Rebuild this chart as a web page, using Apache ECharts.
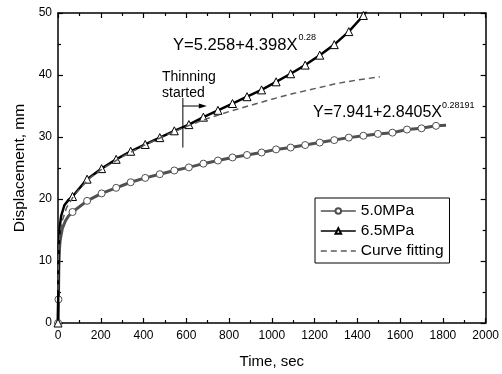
<!DOCTYPE html>
<html>
<head>
<meta charset="utf-8">
<script src="https://cdn.jsdelivr.net/npm/echarts@6/dist/echarts.min.js"></script>
<style>
html,body{margin:0;padding:0;background:#fff;}
#chart{width:502px;height:374px;}
</style>
</head>
<body>
<div id="chart"></div>
<script>
// ---- data ----
const xTicks = [0, 200, 400, 600, 800, 1000, 1200, 1400, 1600, 1800, 2000];
const yTicks = [0, 10, 20, 30, 40, 50];

// 5.0 MPa : marker points
const t50 = [0, 2, 68, 136, 204, 272, 340, 408, 476, 544, 612, 680, 748, 816, 884, 952, 1020, 1088, 1156, 1224, 1292, 1360, 1428, 1496, 1564, 1632, 1700, 1768];
const d50 = [0, 3.8, 17.9, 19.7, 20.9, 21.8, 22.7, 23.4, 24.0, 24.6, 25.1, 25.7, 26.2, 26.7, 27.1, 27.5, 28.0, 28.3, 28.7, 29.1, 29.5, 29.9, 30.2, 30.5, 30.7, 31.2, 31.4, 31.8];
// 5.0 MPa : line-only points between markers
const t50Line = [4, 7, 10, 20, 35, 50, 1815];
const d50Line = [9.0, 12.0, 13.3, 15.2, 16.5, 17.3, 31.9];

// 6.5 MPa : marker points
const t65 = [0, 68, 136, 204, 272, 340, 408, 476, 544, 612, 680, 748, 816, 884, 952, 1020, 1088, 1156, 1224, 1292, 1360, 1428];
const d65 = [0, 20.4, 23.2, 24.9, 26.4, 27.7, 28.8, 29.9, 31.0, 32.0, 33.2, 34.3, 35.4, 36.5, 37.6, 38.9, 40.2, 41.6, 43.2, 44.9, 47.0, 49.6];
// 6.5 MPa : line-only points
const t65Line = [2, 4, 8, 15, 30, 50, 1460];
const d65Line = [8.0, 12.5, 15.5, 17.3, 19.0, 19.9, 51.3];

// Curve fitting (dashed)
const tFit = [0, 2, 5, 10, 20, 40, 70, 100, 150, 200, 300, 400, 500, 600, 700, 800, 900, 1000, 1100, 1200, 1300, 1400, 1505];
const dFit = [5.3, 10.5, 12.5, 14.5, 16.5, 18.6, 20.3, 21.6, 23.4, 24.7, 26.8, 28.6, 30.2, 31.7, 33.0, 34.1, 35.1, 36.1, 37.0, 37.8, 38.6, 39.2, 39.7];

const seriesNames = ['5.0MPa', '6.5MPa', 'Curve fitting'];
const thinningTime = 584;
const thinningRange = [28.3, 36.3];
const arrowTo = [696, 35.0];

// ---- build ----
function build(mt, mv, lt, lv) {
  const items = [];
  mt.forEach((t, i) => items.push({ value: [t, mv[i]] }));
  lt.forEach((t, i) => items.push({ value: [t, lv[i]], symbol: 'none' }));
  items.sort((a, b) => a.value[0] - b.value[0]);
  return items;
}
const FONT = 'Liberation Sans, Arial, sans-serif';
const chart = echarts.init(document.getElementById('chart'), null, { renderer: 'canvas' });

const axisCommonX = {
  type: 'value', min: 0, max: 2000, interval: 200,
  axisLine: { show: true, onZero: false, lineStyle: { color: '#000', width: 1.5 } },
  axisTick: { show: true, inside: true, length: 5, lineStyle: { color: '#000', width: 1.2 } },
  minorTick: { show: true, splitNumber: 2, length: 3, lineStyle: { color: '#000', width: 1.2 } },
  splitLine: { show: false }
};
const axisCommonY = {
  type: 'value', min: 0, max: 50, interval: 10,
  axisLine: { show: true, onZero: false, lineStyle: { color: '#000', width: 1.5 } },
  axisTick: { show: true, inside: true, length: 5, lineStyle: { color: '#000', width: 1.2 } },
  minorTick: { show: true, splitNumber: 2, length: 3, lineStyle: { color: '#000', width: 1.2 } },
  splitLine: { show: false }
};

chart.setOption({
  animation: false,
  backgroundColor: '#fff',
  textStyle: { fontFamily: FONT },
  grid: { left: 58, right: 16, top: 13, bottom: 46, containLabel: false },
  xAxis: [
    Object.assign({}, axisCommonX, {
      position: 'bottom',
      name: 'Time, sec', nameLocation: 'middle', nameGap: 31,
      nameTextStyle: { fontSize: 15, color: '#000', fontFamily: FONT },
      axisLabel: { margin: 7, fontSize: 12, color: '#000', fontFamily: FONT,
        formatter: v => (xTicks.indexOf(v) >= 0 ? String(v) : '') }
    }),
    Object.assign({}, axisCommonX, { position: 'top', axisLabel: { show: false } })
  ],
  yAxis: [
    Object.assign({}, axisCommonY, {
      position: 'left',
      name: 'Displacement, mm', nameLocation: 'middle', nameGap: 30,
      nameTextStyle: { fontSize: 15.5, color: '#000', fontFamily: FONT },
      axisLabel: { margin: 6, fontSize: 12, color: '#000', fontFamily: FONT,
        formatter: v => (yTicks.indexOf(v) >= 0 ? String(v) : '') }
    }),
    Object.assign({}, axisCommonY, { position: 'right', axisLabel: { show: false } })
  ],
  legend: {
    orient: 'vertical', left: 315, top: 198,
    data: [
      seriesNames[0],
      seriesNames[1],
      { name: seriesNames[2], itemStyle: { color: 'rgba(0,0,0,0)', borderWidth: 0, opacity: 0 } }
    ],
    backgroundColor: '#fff',
    borderColor: '#000', borderWidth: 1, borderRadius: 0,
    padding: [5, 6, 4, 5],
    itemWidth: 35, itemHeight: 7, itemGap: 4,
    lineStyle: { width: 1.6 },
    textStyle: { fontSize: 15.5, color: '#000', fontFamily: FONT, lineHeight: 15 }
  },
  series: [
    {
      name: seriesNames[0], type: 'line', xAxisIndex: 0, yAxisIndex: 0,
      data: build(t50, d50, t50Line, d50Line),
      symbol: 'circle', symbolSize: 7, showAllSymbol: true,
      lineStyle: { color: '#505050', width: 3 },
      itemStyle: { color: '#fff', borderColor: '#505050', borderWidth: 1 },
      z: 2
    },
    {
      name: seriesNames[1], type: 'line', xAxisIndex: 0, yAxisIndex: 0,
      data: build(t65, d65, t65Line, d65Line),
      symbol: 'triangle', symbolSize: 8, showAllSymbol: true,
      lineStyle: { color: '#000', width: 2.5 },
      itemStyle: { color: '#fff', borderColor: '#000', borderWidth: 1 },
      z: 3
    },
    {
      name: seriesNames[2], type: 'line', xAxisIndex: 0, yAxisIndex: 0,
      data: tFit.map((t, i) => [t, dFit[i]]),
      symbol: 'none', showSymbol: false,
      lineStyle: { color: '#5a5a5a', width: 1.5, type: [6, 4] },
      itemStyle: { color: '#5a5a5a' },
      z: 4
    }
  ]
});

// annotations
const p1 = chart.convertToPixel({ xAxisIndex: 0, yAxisIndex: 0 }, [thinningTime, thinningRange[0]]);
const p2 = chart.convertToPixel({ xAxisIndex: 0, yAxisIndex: 0 }, [thinningTime, thinningRange[1]]);
const pa = chart.convertToPixel({ xAxisIndex: 0, yAxisIndex: 0 }, [thinningTime, arrowTo[1]]);
const pb = chart.convertToPixel({ xAxisIndex: 0, yAxisIndex: 0 }, arrowTo);

chart.setOption({
  graphic: [
    { type: 'line', shape: { x1: p1[0], y1: p1[1], x2: p2[0], y2: p2[1] }, style: { stroke: '#000', lineWidth: 1 }, z: 10 },
    { type: 'line', shape: { x1: pa[0], y1: pa[1], x2: pb[0] - 6, y2: pb[1] }, style: { stroke: '#000', lineWidth: 1 }, z: 10 },
    { type: 'polygon', shape: { points: [[pb[0], pb[1]], [pb[0] - 8, pb[1] - 2.5], [pb[0] - 8, pb[1] + 2.5]] }, style: { fill: '#000' }, z: 10 },
    { type: 'text', left: 162, top: 69, style: { text: 'Thinning\nstarted', font: '14px ' + FONT, fill: '#000', lineHeight: 16 }, z: 10 },
    { type: 'text', left: 173, top: 37, style: { text: 'Y=5.258+4.398X', font: '16.6px ' + FONT, fill: '#000' }, z: 10 },
    { type: 'text', left: 298.5, top: 33, style: { text: '0.28', font: '9px ' + FONT, fill: '#000' }, z: 10 },
    { type: 'text', left: 313, top: 105, style: { text: 'Y=7.941+2.8405X', font: '16px ' + FONT, fill: '#000' }, z: 10 },
    { type: 'text', left: 442, top: 101, style: { text: '0.28191', font: '9px ' + FONT, fill: '#000' }, z: 10 }
  ]
});
</script>
</body>
</html>
